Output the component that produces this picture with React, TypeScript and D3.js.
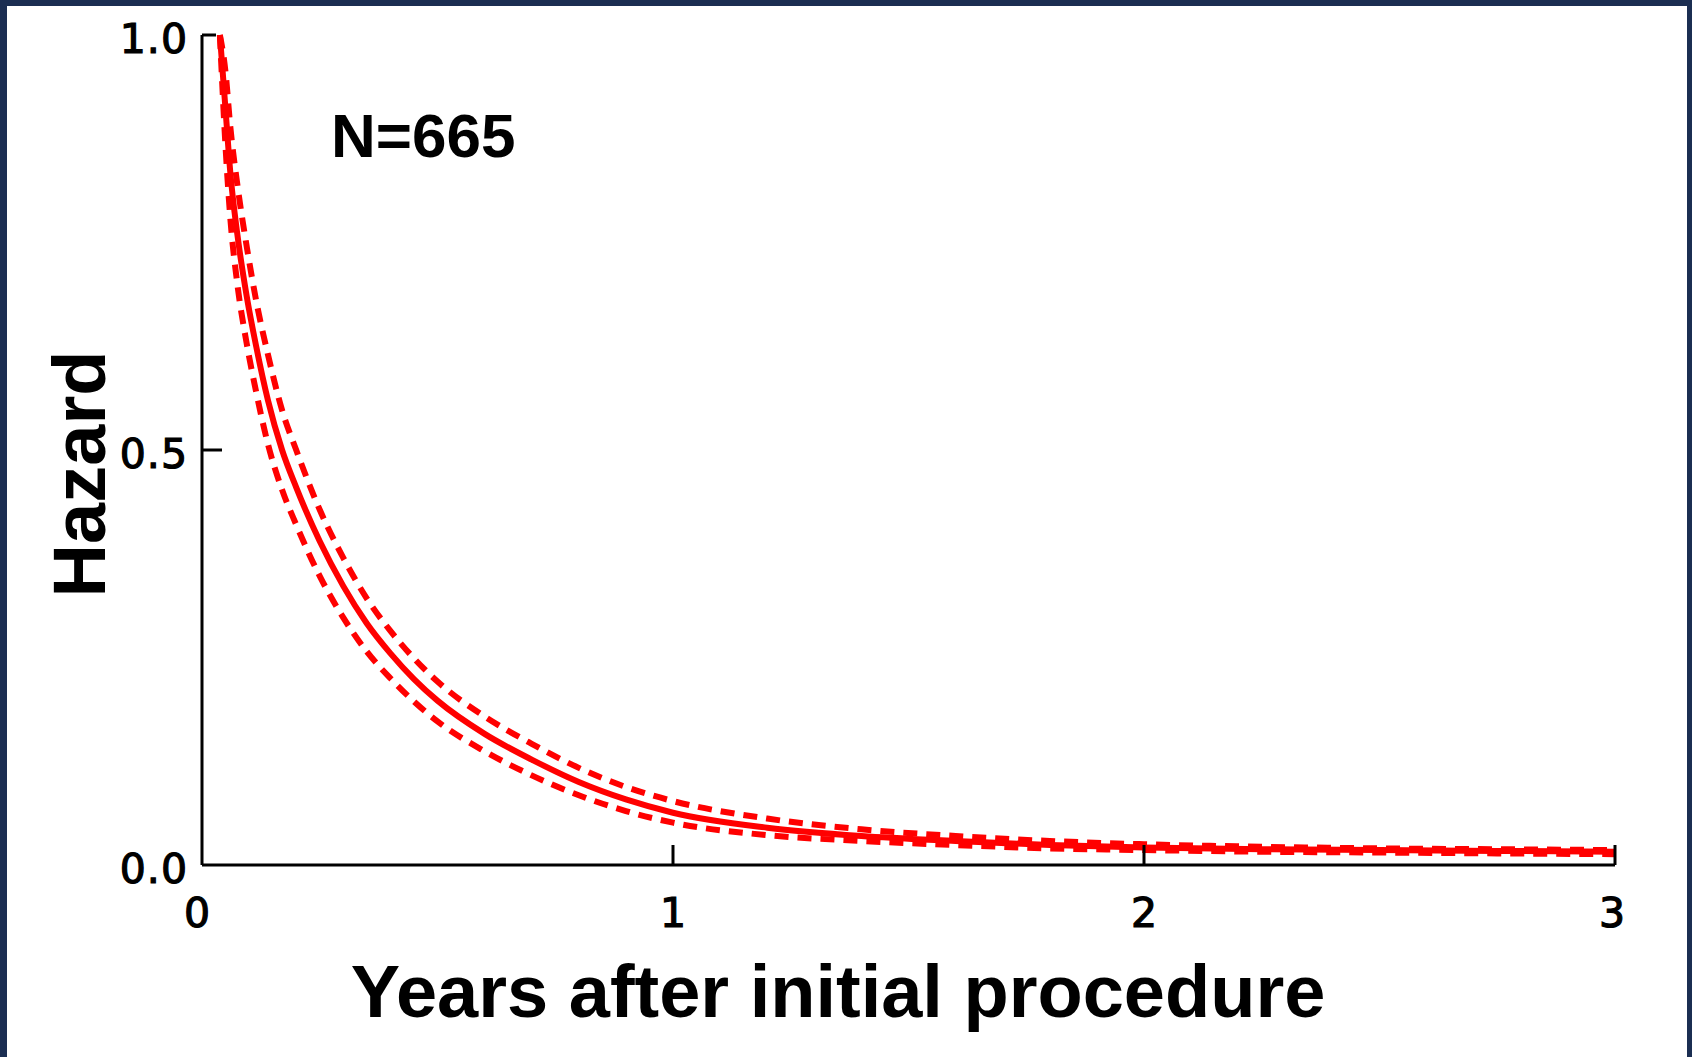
import * as d3 from 'd3';
import { useEffect, useRef } from 'react';

// years after procedure
const years = [0.038, 0.05, 0.06, 0.075, 0.095, 0.115, 0.14, 0.17, 0.2, 0.25, 0.3, 0.35, 0.4, 0.45, 0.5, 0.6, 0.7, 0.8, 0.9, 1.0, 1.2, 1.4, 1.6, 1.8, 2.0, 2.25, 2.5, 2.75, 3.0];
// hazard estimate
const hazard = [1.0, 0.91, 0.835, 0.76, 0.685, 0.625, 0.56, 0.5, 0.455, 0.39, 0.336, 0.291, 0.255, 0.224, 0.198, 0.158, 0.127, 0.1, 0.079, 0.063, 0.045, 0.035, 0.029, 0.024, 0.021, 0.019, 0.018, 0.017, 0.016];
// confidence limits
const upper = [1.0, 0.955, 0.89, 0.82, 0.745, 0.68, 0.615, 0.548, 0.5, 0.428, 0.37, 0.321, 0.282, 0.249, 0.221, 0.179, 0.146, 0.117, 0.094, 0.077, 0.056, 0.043, 0.035, 0.029, 0.025, 0.022, 0.02, 0.019, 0.018];
const lower = [1.0, 0.865, 0.78, 0.7, 0.628, 0.57, 0.507, 0.452, 0.41, 0.348, 0.298, 0.257, 0.225, 0.197, 0.173, 0.137, 0.108, 0.084, 0.065, 0.051, 0.036, 0.029, 0.024, 0.02, 0.018, 0.016, 0.015, 0.014, 0.013];

const xTicks = [0, 1, 2, 3];
const yTicks = [0, 0.5, 1.0];
const xTitle = 'Years after initial procedure';
const yTitle = 'Hazard';
const note = 'N=665';

const App = () => {
  const svgRef = useRef<SVGSVGElement>(null);

  useEffect(() => {
    if (!svgRef.current) return;
    const width = 1692;
    const height = 1057;
    const svg = d3.select(svgRef.current);
    svg.selectAll('*').remove();

    svg.append('rect').attr('width', width).attr('height', height).attr('fill', '#1b2e52');
    svg.append('rect').attr('x', 7).attr('y', 6).attr('width', width - 12).attr('height', height - 6).attr('fill', '#ffffff');

    const x = d3.scaleLinear().domain([0, 3]).range([202, 1615]);
    const y = d3.scaleLinear().domain([0, 1]).range([865, 35]);

    const line = (vals: number[]) =>
      d3.line<number>()
        .x((_, i) => x(years[i]))
        .y((d) => y(d))
        .curve(d3.curveMonotoneX)(vals);

    // confidence limits
    [upper, lower].forEach((vals) => {
      svg.append('path')
        .attr('d', line(vals))
        .attr('fill', 'none')
        .attr('stroke', '#ff0000')
        .attr('stroke-width', 6)
        .attr('stroke-dasharray', '14 9');
    });

    // hazard
    svg.append('path')
      .attr('d', line(hazard))
      .attr('fill', 'none')
      .attr('stroke', '#ff0000')
      .attr('stroke-width', 6);

    // axes
    const axisColor = '#000';
    svg.append('line')
      .attr('x1', x(0)).attr('x2', x(0))
      .attr('y1', y(1)).attr('y2', y(0))
      .attr('stroke', axisColor).attr('stroke-width', 3);
    svg.append('line')
      .attr('x1', x(0)).attr('x2', x(3))
      .attr('y1', y(0)).attr('y2', y(0))
      .attr('stroke', axisColor).attr('stroke-width', 3);

    svg.selectAll('.ytick')
      .data(yTicks.filter((d) => d > 0))
      .enter()
      .append('line')
      .attr('x1', x(0))
      .attr('x2', (d) => x(0) + (d === 1 ? 14 : 20))
      .attr('y1', (d) => y(d))
      .attr('y2', (d) => y(d))
      .attr('stroke', axisColor)
      .attr('stroke-width', 3);

    svg.selectAll('.xtick')
      .data(xTicks.filter((d) => d > 0))
      .enter()
      .append('line')
      .attr('x1', (d) => x(d))
      .attr('x2', (d) => x(d))
      .attr('y1', y(0))
      .attr('y2', y(0) - 20)
      .attr('stroke', axisColor)
      .attr('stroke-width', 3);

    svg.selectAll('.ylab')
      .data(yTicks)
      .enter()
      .append('text')
      .attr('x', x(0) - 14)
      .attr('y', (d) => y(d) + 18)
      .attr('text-anchor', 'end')
      .attr('font-family', 'DejaVu Sans')
      .attr('font-size', 41)
      .attr('stroke', '#000')
      .attr('stroke-width', 1.2)
      .attr('letter-spacing', 1)
      .text((d) => d3.format('.1f')(d));

    svg.selectAll('.xlab')
      .data(xTicks)
      .enter()
      .append('text')
      .attr('x', (d) => x(d) - (d === 0 ? 5 : 0) - (d === 3 ? 3 : 0))
      .attr('y', 927)
      .attr('text-anchor', 'middle')
      .attr('font-family', 'DejaVu Sans')
      .attr('font-size', 41)
      .attr('stroke', '#000')
      .attr('stroke-width', 1.2)
      .text((d) => String(d));

    svg.append('text')
      .attr('x', 838)
      .attr('y', 1017)
      .attr('text-anchor', 'middle')
      .attr('font-family', 'Liberation Sans, Arial, sans-serif')
      .attr('font-weight', 'bold')
      .attr('font-size', 74)
      .text(xTitle);

    svg.append('text')
      .attr('transform', 'translate(105,474) rotate(-90)')
      .attr('text-anchor', 'middle')
      .attr('font-family', 'Liberation Sans, Arial, sans-serif')
      .attr('font-weight', 'bold')
      .attr('font-size', 74)
      .text(yTitle);

    svg.append('text')
      .attr('x', 331)
      .attr('y', 157)
      .attr('font-family', 'Liberation Sans, Arial, sans-serif')
      .attr('font-weight', 'bold')
      .attr('font-size', 62)
      .text(note);
  }, []);

  return (
    <svg
      ref={svgRef}
      width={1692}
      height={1057}
      style={{ position: 'fixed', left: 0, top: 0, display: 'block' }}
    />
  );
};

export default App;
